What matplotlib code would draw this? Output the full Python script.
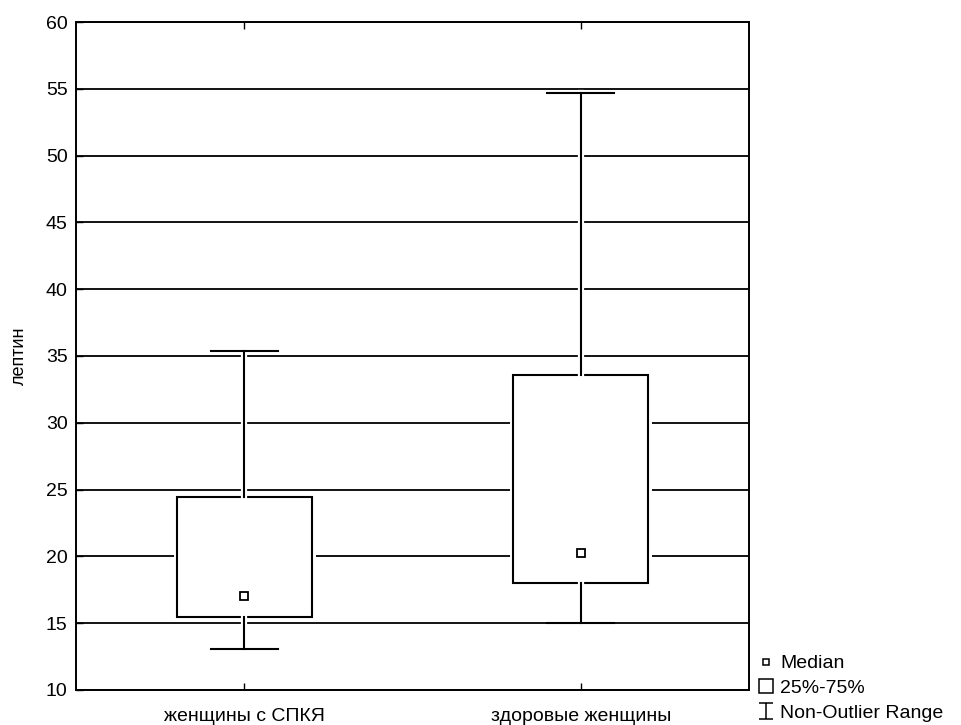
import matplotlib
matplotlib.use("Agg")
import matplotlib.pyplot as plt
import matplotlib.patheffects as pe
from matplotlib.lines import Line2D
from matplotlib.path import Path

plt.rcParams['font.family'] = ['Liberation Sans', 'DejaVu Sans']

categories = ["женщины с СПКЯ", "здоровые женщины"]
medians = [17.05, 20.25]
q1 = [15.45, 18.0]
q3 = [24.45, 33.6]
whis_lo = [13.1, 15.05]
whis_hi = [35.35, 54.7]
y_ticks = [10, 15, 20, 25, 30, 35, 40, 45, 50, 55, 60]
y_label = "лептин"
legend_labels = ["Median", "25%-75%", "Non-Outlier Range"]

fig = plt.figure(figsize=(9.62, 7.25), dpi=100)
ax = fig.add_axes([76/962, 35/725, 673/962, 668/725])

stats = []
for i, c in enumerate(categories):
    stats.append(dict(label=c, med=medians[i], q1=q1[i], q3=q3[i],
                      whislo=whis_lo[i], whishi=whis_hi[i], mean=medians[i], fliers=[]))

bp = ax.bxp(stats, positions=range(len(categories)), widths=0.4, patch_artist=True,
            showmeans=True, meanline=False, showfliers=False,
            boxprops=dict(facecolor='white', edgecolor='black', linewidth=1.5),
            whiskerprops=dict(color='black', linewidth=1.5),
            capprops=dict(color='black', linewidth=1.5),
            medianprops=dict(linewidth=0),
            meanprops=dict(marker='s', markersize=6, markerfacecolor='white',
                           markeredgecolor='black', markeredgewidth=1.3))
for b in bp['boxes']:
    b.set_path_effects([pe.Stroke(linewidth=5, foreground='white'), pe.Normal()])
    b.set_zorder(3)
for w in bp['whiskers']:
    w.set_path_effects([pe.Stroke(linewidth=4.5, foreground='white'), pe.Normal()])
    w.set_zorder(3)
for cp in bp['caps']:
    cp.set_zorder(3)
for m in bp['means']:
    m.set_zorder(4)

ax.set_xlim(-0.5, len(categories) - 0.5)
ax.set_ylim(10, 60)
ax.set_yticks(y_ticks)
ax.yaxis.grid(True, color='black', linewidth=1.3, zorder=1)
ax.set_axisbelow(True)
ax.set_xticks(range(len(categories)))
ax.set_xticklabels(categories, fontsize=14)
ax.tick_params(axis='x', direction='in', length=5, width=1, top=True, pad=13)
ax.tick_params(axis='y', direction='in', length=5, width=1, labelsize=14, pad=6)
for s in ax.spines.values():
    s.set_linewidth(1.4)
    s.set_color('black')
ax.set_ylabel(y_label, fontsize=13, labelpad=13)

# legend
ipath = Path([(-0.8, 1), (0.8, 1), (0, 1), (0, -1), (-0.8, -1), (0.8, -1)],
             [Path.MOVETO, Path.LINETO, Path.MOVETO, Path.LINETO, Path.MOVETO, Path.LINETO])
handles = [
    Line2D([], [], linestyle='none', marker='s', markersize=4.5, markerfacecolor='white',
           markeredgecolor='black', markeredgewidth=1.1),
    Line2D([], [], linestyle='none', marker='s', markersize=10, markerfacecolor='white',
           markeredgecolor='black', markeredgewidth=1.1),
    Line2D([], [], linestyle='none', marker=ipath, markersize=12, markerfacecolor='none',
           markeredgecolor='black', markeredgewidth=1.1),
]
fig.legend(handles, legend_labels, loc='lower left', bbox_to_anchor=(753/962, 0.0),
           frameon=False, fontsize=14, handlelength=1.0, handletextpad=0.25,
           labelspacing=0.37, borderpad=0.15, borderaxespad=0)

fig.savefig("out.png", dpi=100)
